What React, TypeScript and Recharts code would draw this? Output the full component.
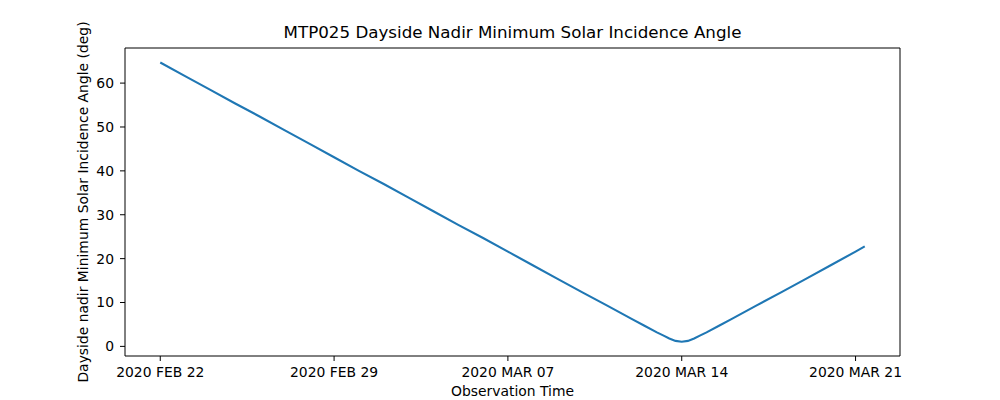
import { LineChart, Line, XAxis, YAxis, ReferenceLine } from 'recharts'

// days since 2020 FEB 22 00:00
const days = [0, 1, 2, 3, 4, 5, 6, 7, 8, 9, 10, 11, 12, 13, 14, 15, 16, 17, 18, 19, 19.5, 20, 20.25, 20.5, 20.75, 21, 21.25, 21.5, 21.75, 22, 22.5, 23, 24, 25, 26, 27, 28, 28.37]
const incidence = [64.7, 61.6, 58.5, 55.4, 52.4, 49.3, 46.2, 43.1, 40.0, 37.0, 33.9, 30.8, 27.7, 24.7, 21.6, 18.5, 15.4, 12.3, 9.3, 6.2, 4.7, 3.2, 2.5, 1.8, 1.25, 1.05, 1.25, 1.8, 2.5, 3.2, 4.7, 6.2, 9.3, 12.3, 15.4, 18.5, 21.6, 22.8]

const tickDays = [0, 7, 14, 21, 28]
const tickLabels = ['2020 FEB 22', '2020 FEB 29', '2020 MAR 07', '2020 MAR 14', '2020 MAR 21']
const yTicks = [0, 10, 20, 30, 40, 50, 60]

const data = days.map((t, i) => ({ t, v: incidence[i] }))

const FONT = 'DejaVu Sans, sans-serif'
const xDomain = [-1.42, 29.79]
const yDomain = [-2.19, 68.0]

export default function App() {
  return (
    <div style={{ position: 'absolute', left: 0, top: 0, width: 1000, height: 400, background: '#fff' }}>
      <LineChart width={1000} height={400} data={data} margin={{ top: 48, right: 100, bottom: 14, left: 65 }} style={{ fontFamily: FONT }}>
        <XAxis
          dataKey="t"
          type="number"
          domain={xDomain}
          ticks={tickDays}
          tickFormatter={(d: number) => tickLabels[tickDays.indexOf(d)] ?? ''}
          allowDataOverflow
          height={30}
          stroke="#000"
          tickSize={5}
          tickMargin={6}
          tick={{ fill: '#000', fontSize: 13.9 }}
          label={{ value: 'Observation Time', position: 'bottom', offset: 0, fill: '#000', fontSize: 13.9 }}
        />
        <YAxis
          type="number"
          domain={yDomain}
          ticks={yTicks}
          allowDataOverflow
          width={60}
          stroke="#000"
          tickSize={5}
          tickMargin={6}
          tick={{ fill: '#000', fontSize: 13.9 }}
          label={{ value: 'Dayside nadir Minimum Solar Incidence Angle (deg)', angle: -90, position: 'insideLeft', offset: 18.5, fill: '#000', fontSize: 13.9, style: { textAnchor: 'middle' } }}
        />
        <ReferenceLine
          y={yDomain[1]}
          stroke="#000"
          label={{ value: 'MTP025 Dayside Nadir Minimum Solar Incidence Angle', position: 'top', offset: 10.5, fill: '#000', fontSize: 16.7 }}
        />
        <ReferenceLine x={xDomain[1]} stroke="#000" />
        <Line
          dataKey="v"
          type="linear"
          stroke="#1f77b4"
          strokeWidth={2.1}
          dot={false}
          isAnimationActive={false}
        />
      </LineChart>
    </div>
  )
}
